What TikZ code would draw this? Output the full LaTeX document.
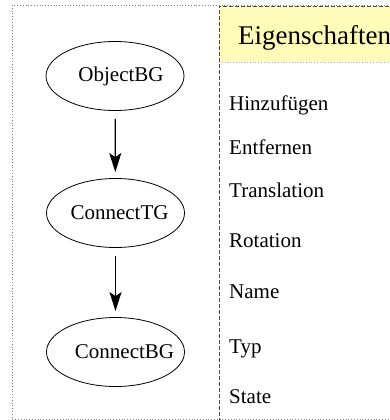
\documentclass[tikz,border=0pt]{standalone}
\usepackage{fontspec}
\setmainfont{Liberation Serif}
\usepackage{xcolor}
\usepackage{tikz}
\usetikzlibrary{positioning,shapes.geometric,arrows.meta}

\tikzset{
  graphnode/.style={draw, ellipse, line width=0.8pt, minimum width=138pt, minimum height=69pt, inner sep=0pt},
  graphlabel/.style={font=\fontsize{21}{21}\selectfont, inner sep=0pt},
  flow/.style={-{Stealth[length=19pt, width=12pt, inset=4pt]}, line width=1.3pt, shorten <=8pt, shorten >=6pt},
  prop/.style={anchor=base west, inner sep=0pt, font=\fontsize{21}{21}\selectfont},
}

\begin{document}
\begin{tikzpicture}[x=1pt, y=-1pt]
\clip (0,0) rectangle (390,420);
% frame and property panel
\draw[gray, dotted, line width=0.8pt] (12,5) rectangle (420,419);
\fill[yellow!28] (219,6) rectangle (420,62);
\draw[gray!60, dotted, line width=0.8pt] (219,62) -- (420,62);
\draw[black!70, dashed, line width=0.8pt, dash pattern=on 4pt off 2pt] (219,440) -- (219,6) -- (420,6);
\node[anchor=base west, inner sep=0pt, font=\fontsize{27}{27}\selectfont] (title) at (238,45) {Eigenschaften};

% graph
\node[graphnode, label={[graphlabel, xshift=6pt]center:ObjectBG}] (objbg) at (115,76) {};
\node[graphnode, label={[graphlabel, xshift=4pt]center:ConnectTG}] (ctg) at (115.5,213) {};
\node[graphnode, label={[graphlabel, xshift=9pt]center:ConnectBG}] (cbg) at (115.5,352) {};
\draw[flow] (objbg) -- (ctg);
\draw[flow] (ctg) -- (cbg);

% properties
\node[prop] (hinzu) at (229,110) {Hinzufügen};
\node[prop] (entf) at (229,154) {Entfernen};
\node[prop] (trans) at (229,197) {Translation};
\node[prop] (rot) at (229,247) {Rotation};
\node[prop] (name) at (229,298) {Name};
\node[prop] (typ) at (229,353) {Typ};
\node[prop] (state) at (229,403) {State};
\end{tikzpicture}
\end{document}
